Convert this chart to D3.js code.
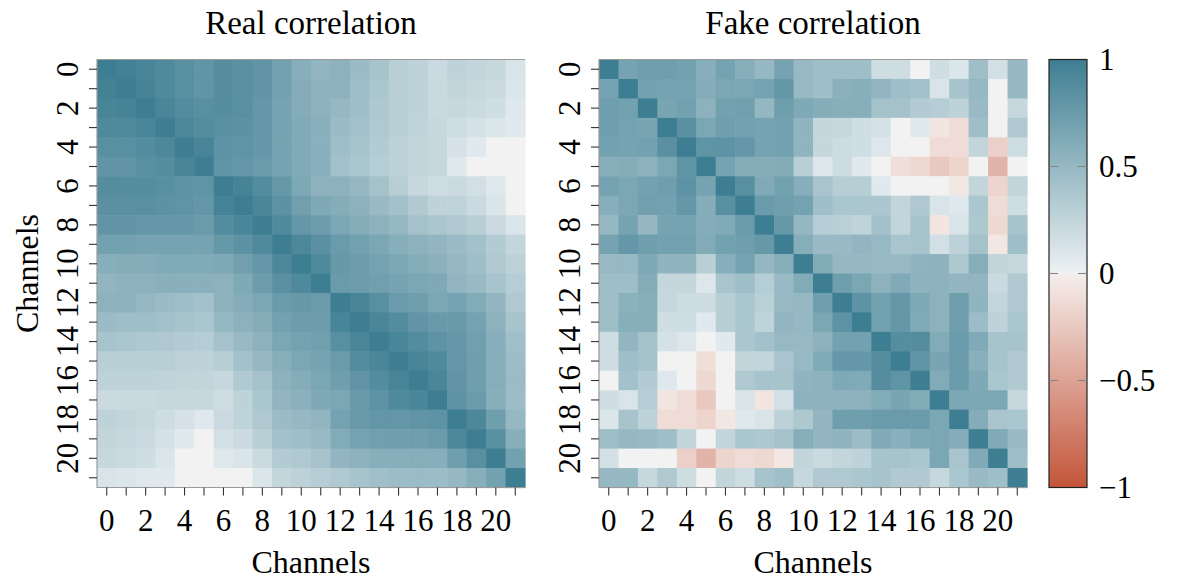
<!DOCTYPE html>
<html>
<head>
<meta charset="utf-8">
<script src="https://cdn.jsdelivr.net/npm/d3@7"></script>
<style>
  body { margin: 0; background: #fff; }
  svg text { font-family: "Liberation Serif", "Times New Roman", serif; fill: #000; }
</style>
</head>
<body>
<svg id="chart" width="1179" height="580"></svg>
<script>
// Channel indices shared by both matrices
const channels = [0,1,2,3,4,5,6,7,8,9,10,11,12,13,14,15,16,17,18,19,20,21];
const tickLabels = [0,2,4,6,8,10,12,14,16,18,20];
const colorbarTicks = [1, 0.5, 0, -0.5, -1];

// Pairwise channel correlation of the real signals
const realCorrelation = [
  [1.00,0.97,0.94,0.90,0.85,0.80,0.87,0.84,0.80,0.70,0.58,0.52,0.55,0.47,0.40,0.30,0.27,0.20,0.27,0.25,0.22,0.12],
  [0.97,1.00,0.96,0.90,0.85,0.80,0.86,0.84,0.80,0.70,0.60,0.54,0.55,0.45,0.38,0.30,0.27,0.21,0.25,0.22,0.20,0.10],
  [0.94,0.96,1.00,0.93,0.88,0.85,0.86,0.85,0.78,0.68,0.60,0.55,0.50,0.45,0.36,0.30,0.27,0.21,0.22,0.20,0.17,0.08],
  [0.90,0.90,0.93,1.00,0.92,0.87,0.85,0.83,0.78,0.68,0.62,0.57,0.47,0.42,0.35,0.30,0.26,0.22,0.18,0.14,0.10,0.07],
  [0.85,0.85,0.88,0.92,1.00,0.95,0.82,0.81,0.78,0.68,0.62,0.57,0.45,0.40,0.33,0.28,0.25,0.22,0.13,0.07,0.00,0.00],
  [0.80,0.80,0.85,0.87,0.95,1.00,0.81,0.79,0.75,0.68,0.62,0.57,0.42,0.38,0.32,0.27,0.25,0.22,0.08,0.00,0.00,0.00],
  [0.87,0.86,0.86,0.85,0.82,0.81,1.00,0.96,0.88,0.77,0.64,0.55,0.55,0.50,0.41,0.31,0.22,0.18,0.20,0.15,0.08,0.00],
  [0.84,0.84,0.85,0.83,0.81,0.79,0.96,1.00,0.93,0.83,0.71,0.63,0.60,0.55,0.48,0.42,0.34,0.27,0.26,0.20,0.11,0.00],
  [0.80,0.80,0.78,0.78,0.78,0.75,0.88,0.93,1.00,0.90,0.78,0.73,0.65,0.60,0.55,0.50,0.41,0.38,0.35,0.30,0.20,0.10],
  [0.70,0.70,0.68,0.68,0.68,0.68,0.77,0.83,0.90,1.00,0.92,0.84,0.75,0.70,0.65,0.58,0.55,0.52,0.47,0.42,0.33,0.24],
  [0.58,0.60,0.60,0.62,0.62,0.62,0.64,0.71,0.78,0.92,1.00,0.90,0.77,0.73,0.69,0.65,0.60,0.56,0.50,0.45,0.35,0.28],
  [0.52,0.54,0.55,0.57,0.57,0.57,0.55,0.63,0.73,0.84,0.90,1.00,0.75,0.73,0.71,0.68,0.65,0.63,0.52,0.48,0.40,0.32],
  [0.55,0.55,0.50,0.47,0.45,0.42,0.55,0.60,0.65,0.75,0.77,0.75,1.00,0.94,0.85,0.75,0.72,0.65,0.69,0.61,0.52,0.35],
  [0.47,0.45,0.45,0.42,0.40,0.38,0.50,0.55,0.60,0.70,0.73,0.73,0.94,1.00,0.93,0.88,0.80,0.76,0.76,0.69,0.55,0.40],
  [0.40,0.38,0.36,0.35,0.33,0.32,0.41,0.48,0.55,0.65,0.69,0.71,0.85,0.93,1.00,0.93,0.88,0.82,0.79,0.71,0.58,0.44],
  [0.30,0.30,0.30,0.30,0.28,0.27,0.31,0.42,0.50,0.58,0.65,0.68,0.75,0.88,0.93,1.00,0.95,0.90,0.79,0.72,0.58,0.46],
  [0.27,0.27,0.27,0.26,0.25,0.25,0.22,0.34,0.41,0.55,0.60,0.65,0.72,0.80,0.88,0.95,1.00,0.93,0.80,0.72,0.59,0.47],
  [0.20,0.21,0.21,0.22,0.22,0.22,0.18,0.27,0.38,0.52,0.56,0.63,0.65,0.76,0.82,0.90,0.93,1.00,0.82,0.75,0.58,0.46],
  [0.27,0.25,0.22,0.18,0.13,0.08,0.20,0.26,0.35,0.47,0.50,0.52,0.69,0.76,0.79,0.79,0.80,0.82,1.00,0.92,0.72,0.50],
  [0.25,0.22,0.20,0.14,0.07,0.00,0.15,0.20,0.30,0.42,0.45,0.48,0.61,0.69,0.71,0.72,0.72,0.75,0.92,1.00,0.85,0.58],
  [0.22,0.20,0.17,0.10,0.00,0.00,0.08,0.11,0.20,0.33,0.35,0.40,0.52,0.55,0.58,0.58,0.59,0.58,0.72,0.85,1.00,0.70],
  [0.12,0.10,0.08,0.07,0.00,0.00,0.00,0.00,0.10,0.24,0.28,0.32,0.35,0.40,0.44,0.46,0.47,0.46,0.50,0.58,0.70,1.00]
];

// Pairwise channel correlation of the generated signals
const fakeCorrelation = [
  [1.00,0.68,0.72,0.72,0.70,0.58,0.69,0.58,0.50,0.68,0.49,0.45,0.45,0.45,0.18,0.18,0.00,0.17,0.10,0.45,0.15,0.50],
  [0.68,1.00,0.70,0.68,0.68,0.60,0.65,0.65,0.68,0.78,0.49,0.45,0.56,0.58,0.52,0.45,0.42,0.12,0.40,0.50,0.00,0.50],
  [0.72,0.70,1.00,0.66,0.70,0.55,0.70,0.71,0.51,0.72,0.63,0.60,0.58,0.58,0.41,0.41,0.33,0.32,0.27,0.48,0.00,0.22],
  [0.72,0.68,0.66,1.00,0.84,0.65,0.72,0.70,0.68,0.70,0.53,0.23,0.22,0.17,0.14,0.00,0.08,-0.07,-0.12,0.45,0.00,0.35],
  [0.70,0.68,0.70,0.84,1.00,0.81,0.82,0.78,0.68,0.70,0.53,0.23,0.19,0.17,0.09,0.00,0.00,-0.12,-0.12,0.25,-0.20,0.18],
  [0.58,0.60,0.55,0.65,0.81,1.00,0.68,0.60,0.60,0.61,0.30,0.09,0.19,0.07,0.00,-0.11,-0.15,-0.25,-0.17,0.00,-0.38,0.00],
  [0.69,0.65,0.70,0.72,0.82,0.68,1.00,0.85,0.62,0.70,0.58,0.39,0.31,0.31,0.07,0.00,0.00,0.00,-0.05,0.25,-0.17,0.25],
  [0.58,0.65,0.71,0.70,0.78,0.60,0.85,1.00,0.75,0.72,0.69,0.45,0.38,0.38,0.37,0.25,0.35,0.12,0.08,0.38,-0.12,0.18],
  [0.50,0.68,0.51,0.68,0.68,0.60,0.62,0.75,1.00,0.77,0.51,0.32,0.29,0.26,0.42,0.25,0.40,-0.07,0.12,0.36,-0.15,0.40],
  [0.68,0.78,0.72,0.70,0.70,0.61,0.70,0.72,0.77,1.00,0.59,0.48,0.48,0.52,0.49,0.39,0.40,0.15,0.28,0.41,-0.05,0.45],
  [0.49,0.49,0.63,0.53,0.53,0.30,0.58,0.69,0.51,0.59,1.00,0.61,0.50,0.50,0.49,0.49,0.53,0.54,0.36,0.59,0.25,0.22],
  [0.45,0.45,0.60,0.23,0.23,0.09,0.39,0.45,0.32,0.48,0.61,1.00,0.72,0.65,0.55,0.62,0.54,0.55,0.52,0.52,0.20,0.35],
  [0.45,0.56,0.58,0.22,0.19,0.19,0.31,0.38,0.29,0.48,0.50,0.72,1.00,0.82,0.70,0.78,0.63,0.55,0.72,0.53,0.24,0.35],
  [0.45,0.58,0.58,0.17,0.17,0.07,0.31,0.38,0.26,0.52,0.50,0.65,0.82,1.00,0.70,0.78,0.62,0.55,0.72,0.46,0.27,0.38],
  [0.18,0.52,0.41,0.14,0.09,0.00,0.07,0.37,0.42,0.49,0.49,0.55,0.70,0.70,1.00,0.86,0.87,0.61,0.75,0.62,0.40,0.40],
  [0.18,0.45,0.41,0.00,0.00,-0.11,0.00,0.25,0.25,0.39,0.49,0.62,0.78,0.78,0.86,1.00,0.81,0.66,0.75,0.57,0.40,0.34],
  [0.00,0.42,0.33,0.08,0.00,-0.15,0.00,0.35,0.40,0.40,0.53,0.54,0.63,0.62,0.87,0.81,1.00,0.61,0.75,0.63,0.38,0.34],
  [0.17,0.12,0.32,-0.07,-0.12,-0.25,0.00,0.12,-0.07,0.15,0.54,0.55,0.55,0.55,0.61,0.66,0.61,1.00,0.65,0.65,0.65,0.22],
  [0.10,0.40,0.27,-0.12,-0.12,-0.17,-0.05,0.08,0.12,0.28,0.36,0.52,0.72,0.72,0.75,0.75,0.75,0.65,1.00,0.60,0.39,0.38],
  [0.45,0.50,0.48,0.45,0.25,0.00,0.25,0.38,0.36,0.41,0.59,0.52,0.53,0.46,0.62,0.57,0.63,0.65,0.60,1.00,0.62,0.48],
  [0.15,0.00,0.00,0.00,-0.20,-0.38,-0.17,-0.12,-0.15,-0.05,0.25,0.20,0.24,0.27,0.40,0.40,0.38,0.65,0.39,0.62,1.00,0.45],
  [0.50,0.50,0.22,0.35,0.18,0.00,0.25,0.18,0.40,0.45,0.22,0.35,0.35,0.38,0.40,0.34,0.34,0.22,0.38,0.48,0.45,1.00]
];

const svg = d3.select("#chart");

// Diverging palette: red for negative, light grey at zero, teal for positive
const color = d3.scaleLinear()
  .domain([-1, -0.004, 0, 0.004, 1])
  .range(["#c3553a", "#f5eeec", "#f2f2f2", "#ecf1f3", "#3e7e92"])
  .interpolate(d3.interpolateRgb)
  .clamp(true);

const PANEL = 428;
const TOP = 59.5;
const TICK_FONT = 31;

function drawPanel(matrix, title, left, withYLabel) {
  const x = d3.scaleBand().domain(channels).range([left, left + PANEL]);
  const y = d3.scaleBand().domain(channels).range([TOP, TOP + PANEL]);
  const g = svg.append("g");

  const cells = [];
  matrix.forEach((row, i) => row.forEach((v, j) => cells.push({ i, j, v })));

  g.append("g").selectAll("rect").data(cells).join("rect")
    .attr("x", d => x(channels[d.j]))
    .attr("y", d => y(channels[d.i]))
    .attr("width", x.bandwidth() + 0.6)
    .attr("height", y.bandwidth() + 0.6)
    .attr("fill", d => color(d.v));

  // frame on the top, left and bottom sides
  g.append("path")
    .attr("d", `M${left + PANEL},${TOP}H${left}V${TOP + PANEL}H${left + PANEL}`)
    .attr("fill", "none").attr("stroke", "#9a9a9a").attr("stroke-width", 1.2);

  // bottom axis
  const xAxis = d3.axisBottom(x).tickSize(8).tickSizeOuter(0).tickPadding(13)
    .tickFormat(d => tickLabels.includes(d) ? d : "");
  const xg = g.append("g").attr("transform", `translate(0,${TOP + PANEL})`).call(xAxis);
  xg.select(".domain").remove();
  xg.selectAll(".tick line").attr("stroke", "#333").attr("stroke-width", 1.1);
  xg.selectAll(".tick text").attr("font-size", TICK_FONT)
    .style("font-family", '"Liberation Serif", serif').attr("fill", "#000");

  // left axis with upright (rotated) labels
  const yAxis = d3.axisLeft(y).tickSize(8).tickSizeOuter(0).tickFormat("");
  const yg = g.append("g").attr("transform", `translate(${left},0)`).call(yAxis);
  yg.select(".domain").remove();
  yg.selectAll(".tick line").attr("stroke", "#333").attr("stroke-width", 1.1);

  const lx = left - 19;
  g.append("g").selectAll("text").data(tickLabels).join("text")
    .attr("x", lx)
    .attr("y", d => y(d) + y.bandwidth() / 2)
    .attr("transform", d => `rotate(-90,${lx},${y(d) + y.bandwidth() / 2})`)
    .attr("text-anchor", "middle")
    .attr("font-size", TICK_FONT)
    .text(d => d);

  // title and axis labels
  g.append("text")
    .attr("x", left + PANEL / 2).attr("y", 34)
    .attr("text-anchor", "middle").attr("font-size", 33)
    .text(title);

  g.append("text")
    .attr("x", left + PANEL / 2).attr("y", 573)
    .attr("text-anchor", "middle").attr("font-size", 32)
    .text("Channels");

  if (withYLabel) {
    const cy = TOP + PANEL / 2;
    g.append("text")
      .attr("x", 38).attr("y", cy)
      .attr("transform", `rotate(-90,38,${cy})`)
      .attr("text-anchor", "middle").attr("font-size", 32)
      .text("Channels");
  }
}

drawPanel(realCorrelation, "Real correlation", 97, true);
drawPanel(fakeCorrelation, "Fake correlation", 599, false);

// colour bar
const cbX = 1049, cbW = 38;
const cbScale = d3.scaleLinear().domain([1, -1]).range([TOP, TOP + PANEL]);

const defs = svg.append("defs");
const grad = defs.append("linearGradient")
  .attr("id", "cbar").attr("x1", 0).attr("y1", 1).attr("x2", 0).attr("y2", 0);
const stops = d3.range(0, 201).map(k => -1 + k / 100);
grad.selectAll("stop").data(stops).join("stop")
  .attr("offset", d => (d + 1) / 2)
  .attr("stop-color", d => color(d));

svg.append("rect")
  .attr("x", cbX).attr("y", TOP).attr("width", cbW).attr("height", PANEL)
  .attr("fill", "url(#cbar)").attr("stroke", "#222").attr("stroke-width", 1.2);

const cbg = svg.append("g");
colorbarTicks.filter(t => Math.abs(t) < 1).forEach(t => {
  cbg.append("line")
    .attr("x1", cbX).attr("x2", cbX + 9)
    .attr("y1", cbScale(t)).attr("y2", cbScale(t))
    .attr("stroke", "#888").attr("stroke-width", 1.1);
  cbg.append("line")
    .attr("x1", cbX + cbW - 9).attr("x2", cbX + cbW)
    .attr("y1", cbScale(t)).attr("y2", cbScale(t))
    .attr("stroke", "#888").attr("stroke-width", 1.1);
});

cbg.selectAll("text.cb").data(colorbarTicks).join("text")
  .attr("class", "cb")
  .attr("x", 1099)
  .attr("y", d => cbScale(d))
  .attr("dy", "0.35em")
  .attr("font-size", TICK_FONT)
  .text(d => d < 0 ? "\u2212" + Math.abs(d) : String(d));
</script>
</body>
</html>
